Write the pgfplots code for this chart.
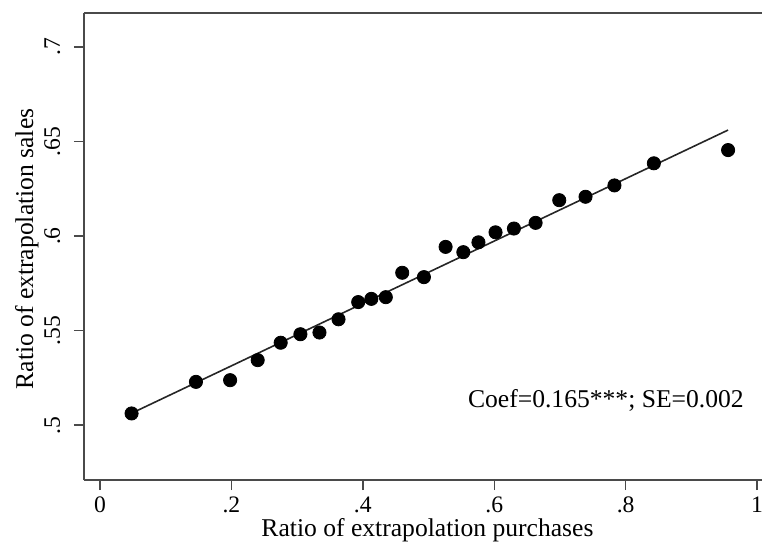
\documentclass[border=0pt]{standalone}
\usepackage{pgfplots}
\pgfplotsset{compat=1.18}
\usepackage{fontspec}
\setmainfont{Liberation Serif}
\definecolor{axgray}{HTML}{4A4A4A}
\begin{document}
\begin{tikzpicture}
\begin{axis}[
  name=ax, scale only axis, width=339pt, height=233.5pt,
  xmin=-0.0244, xmax=1.0076, ymin=0.471, ymax=0.718,
  axis x line*=bottom, axis y line*=left,
  axis line style={color=axgray, line width=1.2pt},
  tick align=outside, major tick length=5pt,
  tick style={color=axgray, line width=0.7pt},
  xtick={0,0.2,0.4,0.6,0.8,1}, xticklabels={0,.2,.4,.6,.8,1},
  ytick={0.5,0.55,0.6,0.65,0.7}, yticklabels={.5,.55,.6,.65,.7},
  font=\fontsize{12.8}{15}\selectfont,
  ticklabel style={font=\fontsize{11.8}{14}\selectfont, inner sep=0pt},
  xticklabel style={anchor=base, yshift=-11.5pt},
  yticklabel style={rotate=90, anchor=base, yshift=7pt},
  xlabel={Ratio of extrapolation purchases},
  ylabel={Ratio of extrapolation sales},
  xlabel style={at={(axis description cs:0.5066,-0.1220)}, anchor=base, inner sep=0pt},
  ylabel style={at={(axis description cs:-0.0752,0.4946)}, anchor=base, inner sep=0pt},
  clip=false,
]
\addplot[only marks, mark=*, mark size=3.3pt, black] table {
x y
0.048 0.5062
0.146 0.5229
0.198 0.5238
0.240 0.5344
0.275 0.5436
0.305 0.5481
0.334 0.5490
0.363 0.5560
0.393 0.5651
0.413 0.5668
0.435 0.5677
0.460 0.5806
0.493 0.5783
0.526 0.5943
0.553 0.5915
0.576 0.5967
0.602 0.6020
0.630 0.6040
0.663 0.6070
0.699 0.6190
0.739 0.6208
0.783 0.6268
0.843 0.6385
0.956 0.6455
};
\addplot[black!85, line width=0.8pt] table {
x y
0.048 0.5063
0.956 0.6561
};
\draw[color=axgray, line width=1.2pt] (rel axis cs:0,1) -- (rel axis cs:1,1);
\node[anchor=base] at (axis cs:0.770,0.5095) {Coef=0.165***; SE=0.002};
\end{axis}
\pgfresetboundingbox
\path ([xshift=-42pt,yshift=-36.5pt]ax.south west) rectangle ([yshift=6.5pt]ax.north east);
\end{tikzpicture}
\end{document}
